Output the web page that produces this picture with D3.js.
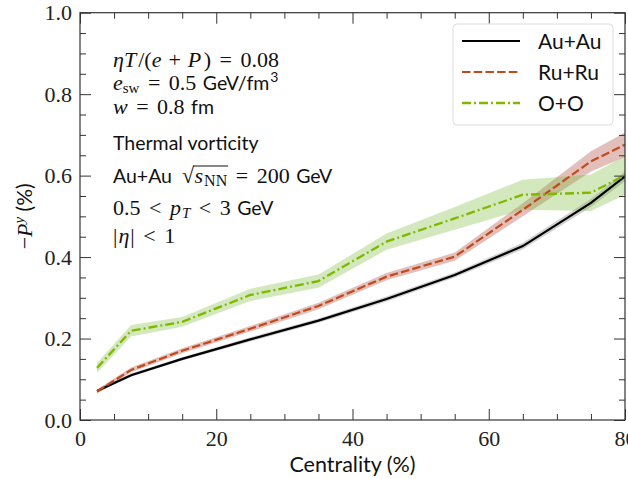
<!DOCTYPE html>
<html>
<head>
<meta charset="utf-8">
<script src="https://cdn.jsdelivr.net/npm/d3@7"></script>
<style>
  body { margin: 0; background: white; }
  svg { display: block; }
</style>
</head>
<body>
<svg id="chart"></svg>
<script>
// centrality bin centres (%) and -P^y (%) for each system
var centrality = [2.5, 7.5, 15, 25, 35, 45, 55, 65, 75, 85]
var auau    = [0.071, 0.110, 0.150, 0.198, 0.244, 0.297, 0.356, 0.427, 0.533, 0.663]
var auauErr = [0.004, 0.004, 0.004, 0.005, 0.005, 0.006, 0.006, 0.008, 0.010, 0.014]
var ruru    = [0.070, 0.123, 0.170, 0.224, 0.280, 0.352, 0.401, 0.516, 0.635, 0.717]
var ruruErr = [0.005, 0.006, 0.006, 0.007, 0.008, 0.009, 0.010, 0.016, 0.025, 0.035]
var oo      = [0.128, 0.219, 0.241, 0.307, 0.341, 0.438, 0.495, 0.553, 0.558, 0.643]
var ooErr   = [0.012, 0.014, 0.012, 0.015, 0.016, 0.020, 0.028, 0.037, 0.045, 0.050]

var xTicks = [0, 20, 40, 60, 80]
var yTicks = [0.0, 0.2, 0.4, 0.6, 0.8, 1.0]
var legendNames = ["Au+Au", "Ru+Ru", "O+O"]

var width = 628, height = 479
var plot = { left: 80, right: 625, top: 12.7, bottom: 420 }

var serif = "'Liberation Serif', 'Times New Roman', serif"
var sans = "Lato, 'Open Sans', sans-serif"

var svg = d3.select("#chart")
    .attr("width", width)
    .attr("height", height)

var x = d3.scaleLinear().domain([0, 80]).range([plot.left, plot.right])
var y = d3.scaleLinear().domain([0, 1]).range([plot.bottom, plot.top])

var series = [
    { name: legendNames[0], v: auau, e: auauErr, color: "#000000", band: "#888888", bandOp: 0.4, dash: null, lw: 2.2 },
    { name: legendNames[1], v: ruru, e: ruruErr, color: "#c04a1b", band: "#a83c32", bandOp: 0.33, dash: "8.5,3.2", lw: 2.2 },
    { name: legendNames[2], v: oo, e: ooErr, color: "#80b800", band: "#7db83a", bandOp: 0.33, dash: "9,3,2,3", lw: 2.3 }
]

svg.append("defs").append("clipPath").attr("id", "clip")
    .append("rect")
    .attr("x", plot.left).attr("y", plot.top)
    .attr("width", plot.right - plot.left).attr("height", plot.bottom - plot.top)

var g = svg.append("g").attr("clip-path", "url(#clip)")

var area = d3.area()
    .x((d, i) => x(centrality[i]))
    .y0(d => y(d[0]))
    .y1(d => y(d[1]))
var line = d3.line()
    .x((d, i) => x(centrality[i]))
    .y(d => y(d))

// bands first, then lines on top
series.forEach(s => {
    g.append("path")
        .datum(s.v.map((v, i) => [v - s.e[i], v + s.e[i]]))
        .attr("d", area)
        .attr("fill", s.band)
        .attr("opacity", s.bandOp)
})
series.forEach(s => {
    g.append("path")
        .datum(s.v)
        .attr("d", line)
        .attr("fill", "none")
        .attr("stroke", s.color)
        .attr("stroke-width", s.lw)
        .attr("stroke-dasharray", s.dash)
})

// axes with inward ticks on all four sides
function styleAxis(sel) {
    sel.select(".domain").remove()
    sel.selectAll("line").attr("stroke", "#333").attr("stroke-width", 1)
    sel.selectAll("text").style("font-family", serif).style("font-size", "22px").attr("fill", "#222")
}
var minorX = d3.range(0, 81, 5).filter(v => v % 20 != 0)
var minorY = d3.range(0, 1.001, 0.05).filter(v => Math.abs(v * 5 - Math.round(v * 5)) > 1e-6)

svg.append("g").attr("transform", `translate(0,${plot.bottom})`)
    .call(d3.axisBottom(x).tickValues(xTicks).tickSize(-11).tickPadding(10).tickFormat(d3.format("d")))
    .call(styleAxis)
svg.append("g").attr("transform", `translate(0,${plot.bottom})`)
    .call(d3.axisBottom(x).tickValues(minorX).tickSize(-6).tickFormat(""))
    .call(styleAxis)
svg.append("g").attr("transform", `translate(0,${plot.top})`)
    .call(d3.axisTop(x).tickValues(xTicks).tickSize(-11).tickFormat(""))
    .call(styleAxis)
svg.append("g").attr("transform", `translate(0,${plot.top})`)
    .call(d3.axisTop(x).tickValues(minorX).tickSize(-6).tickFormat(""))
    .call(styleAxis)

svg.append("g").attr("transform", `translate(${plot.left},0)`)
    .call(d3.axisLeft(y).tickValues(yTicks).tickSize(-11).tickPadding(8).tickFormat(d3.format(".1f")))
    .call(styleAxis)
svg.append("g").attr("transform", `translate(${plot.left},0)`)
    .call(d3.axisLeft(y).tickValues(minorY).tickSize(-6).tickFormat(""))
    .call(styleAxis)
svg.append("g").attr("transform", `translate(${plot.right},0)`)
    .call(d3.axisRight(y).tickValues(yTicks).tickSize(-11).tickFormat(""))
    .call(styleAxis)
svg.append("g").attr("transform", `translate(${plot.right},0)`)
    .call(d3.axisRight(y).tickValues(minorY).tickSize(-6).tickFormat(""))
    .call(styleAxis)

svg.append("rect")
    .attr("x", plot.left).attr("y", plot.top)
    .attr("width", plot.right - plot.left).attr("height", plot.bottom - plot.top)
    .attr("fill", "none").attr("stroke", "#333").attr("stroke-width", 1.2)

// x label
svg.append("text")
    .attr("x", (plot.left + plot.right) / 2)
    .attr("y", 472)
    .attr("text-anchor", "middle")
    .style("font-family", sans).style("font-size", "21.5px")
    .attr("fill", "#111")
    .text("Centrality (%)")

// y label: −P^y (%)
var yl = svg.append("text")
    .attr("transform", `translate(32,${(plot.top + plot.bottom) / 2}) rotate(-90)`)
    .attr("text-anchor", "middle")
    .attr("fill", "#111")
    .style("font-size", "22px")
yl.append("tspan").style("font-family", serif).text("\u2212")
yl.append("tspan").style("font-family", serif).style("font-style", "italic").text("P")
yl.append("tspan").style("font-family", serif).style("font-style", "italic")
    .style("font-size", "15px").attr("dy", -8).text("y")
yl.append("tspan").style("font-family", sans).style("font-size", "21px").attr("dy", 8).text(" (%)")

// writes a row of mixed-font pieces (pre/gap = extra space before/after), returns x extents
function richLine(x0, baseline, parts) {
    var cx = x0
    var out = []
    parts.forEach(p => {
        cx += (p.pre || 0)
        var t = svg.append("text")
            .attr("x", cx)
            .attr("y", baseline + (p.dy || 0))
            .style("font-family", p.f == "sans" ? sans : serif)
            .style("font-style", p.i ? "italic" : "normal")
            .style("font-size", (p.s || 22) + "px")
            .attr("fill", "#111")
            .text(p.t)
        var w = t.node().getComputedTextLength()
        out.push({ x0: cx, x1: cx + w })
        cx += w + (p.gap || 0)
    })
    return out
}

var tx = 113
var ms = 22, ss = 19.5, sub = 15
var rel = 8.5, bin = 7, txt = 6.5
richLine(tx, 67, [
    { t: "\u03b7", i: true, s: ms }, { t: "T", i: true, s: ms, gap: 2 }, { t: "/(", s: ms },
    { t: "e", i: true, s: ms }, { t: "+", s: ms, pre: bin, gap: bin }, { t: "P", i: true, s: ms, gap: 2.5 },
    { t: ")", s: ms }, { t: "=", s: ms, pre: rel, gap: rel }, { t: "0.08", s: ms }
])
richLine(tx, 90, [
    { t: "e", i: true, s: ms }, { t: "sw", s: sub, dy: 3 }, { t: "=", s: ms, pre: rel, gap: rel },
    { t: "0.5", s: ms }, { t: "GeV/fm", f: "sans", s: ss, pre: txt }, { t: "3", f: "sans", s: 14, dy: -8, pre: 1 }
])
richLine(tx, 114, [
    { t: "w", i: true, s: ms }, { t: "=", s: ms, pre: rel, gap: rel }, { t: "0.8", s: ms },
    { t: "fm", f: "sans", s: ss, pre: txt }
])
richLine(tx, 150, [{ t: "Thermal vorticity", f: "sans", s: ss }])
var rl = richLine(tx, 183, [
    { t: "Au+Au", f: "sans", s: ss }, { t: "\u221a", s: ms, pre: 10 }, { t: "s", i: true, s: ms, pre: 0.5 },
    { t: "NN", s: 16, dy: 3, pre: 1 }, { t: "=", s: ms, pre: rel, gap: rel }, { t: "200", s: ms },
    { t: "GeV", f: "sans", s: ss, pre: txt }
])
// radical bar over s_NN
svg.append("line")
    .attr("x1", rl[1].x1 - 1).attr("x2", rl[3].x1 + 1)
    .attr("y1", 166).attr("y2", 166)
    .attr("stroke", "#111").attr("stroke-width", 1)
richLine(tx, 215, [
    { t: "0.5", s: ms }, { t: "<", s: ms, pre: rel, gap: rel }, { t: "p", i: true, s: ms },
    { t: "T", i: true, s: sub, dy: 3, pre: 1 }, { t: "<", s: ms, pre: rel, gap: rel }, { t: "3", s: ms },
    { t: "GeV", f: "sans", s: ss, pre: txt }
])
richLine(tx, 243, [
    { t: "|", s: ms }, { t: "\u03b7", i: true, s: ms, pre: 1 }, { t: "|", s: ms, pre: 1 },
    { t: "<", s: ms, pre: rel, gap: rel }, { t: "1", s: ms }
])

// legend
var lg = svg.append("g")
lg.append("rect")
    .attr("x", 453).attr("y", 24).attr("width", 160).attr("height", 101)
    .attr("rx", 4).attr("fill", "white").attr("fill-opacity", 0.85)
    .attr("stroke", "#dddddd").attr("stroke-width", 1)
series.forEach((s, i) => {
    var ly = 41 + i * 31
    lg.append("line")
        .attr("x1", 462).attr("x2", 520).attr("y1", ly).attr("y2", ly)
        .attr("stroke", s.color).attr("stroke-width", s.lw)
        .attr("stroke-dasharray", s.dash)
    lg.append("text")
        .attr("x", 538).attr("y", ly + 7.5)
        .style("font-family", sans).style("font-size", "21px")
        .attr("fill", "#111")
        .text(s.name)
})
</script>
</body>
</html>
